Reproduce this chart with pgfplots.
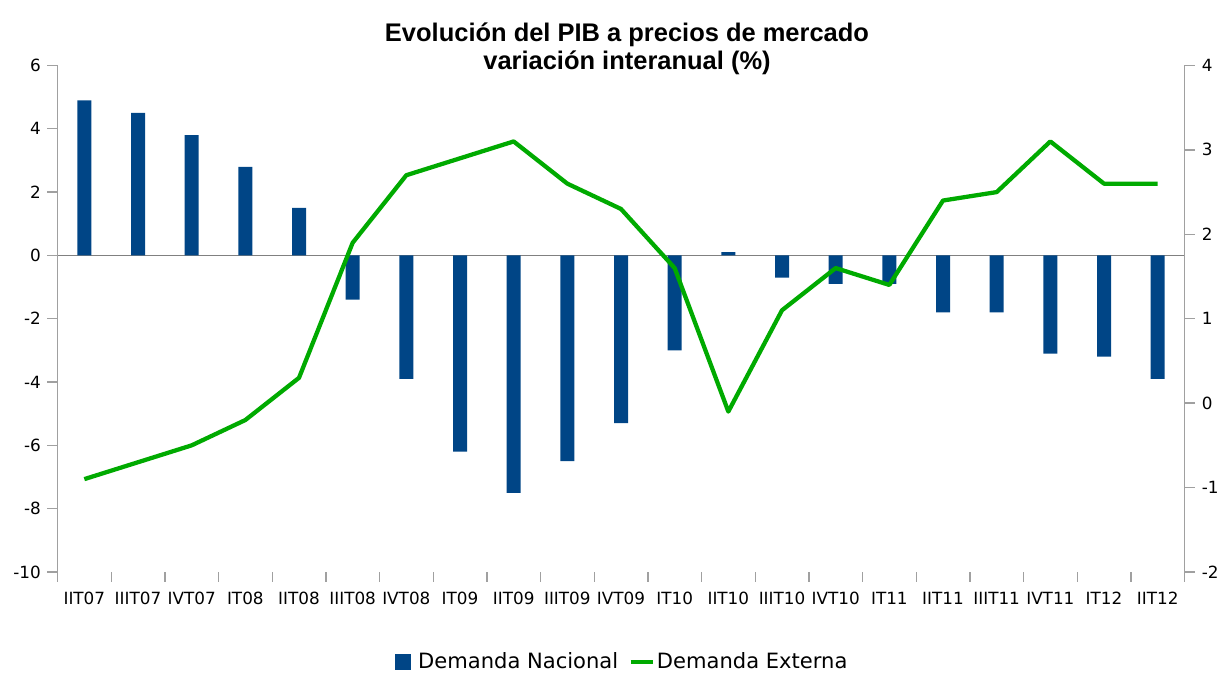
\documentclass[border=0pt]{standalone}
\usepackage{fontspec}
\setmainfont{DejaVu Sans}
\newfontfamily\titlefont{Liberation Sans}
\usepackage{pgfplots}
\usepackage{pgfplotstable}
\pgfplotsset{compat=1.18}
\definecolor{barblue}{RGB}{0,69,134}
\definecolor{linegreen}{RGB}{0,170,0}
\definecolor{axgray}{RGB}{160,160,160}
\definecolor{zerogray}{RGB}{128,128,128}

\pgfplotstableread{
x nac ext
0 4.9 -0.9
1 4.5 -0.7
2 3.8 -0.5
3 2.8 -0.2
4 1.5 0.3
5 -1.4 1.9
6 -3.9 2.7
7 -6.2 2.9
8 -7.5 3.1
9 -6.5 2.6
10 -5.3 2.3
11 -3.0 1.6
12 0.1 -0.1
13 -0.7 1.1
14 -0.9 1.6
15 -0.9 1.4
16 -1.8 2.4
17 -1.8 2.5
18 -3.1 3.1
19 -3.2 2.6
20 -3.9 2.6
}\datatable

\begin{document}
\begin{tikzpicture}
\pgfplotsset{
  common/.style={
    width=845.25pt, height=379.9pt, scale only axis,
    xmin=-0.5, xmax=20.5,
    tick align=outside,
    major tick length=7.5pt, minor tick length=7.5pt,
    tick style={axgray, line width=1pt},
    ticklabel style={font=\fontsize{12.6}{15}\selectfont},
    /pgf/number format/assume math mode=true,
  }
}
\begin{axis}[common, name=main,
  axis y line*=left, axis x line*=bottom,
  x axis line style={draw=none},
  y axis line style={axgray, line width=1pt},
  ymin=-10, ymax=6, ytick={-10,-8,...,6},
  yticklabel style={xshift=-1.5pt},
  xtick={0,...,20},
  xticklabels={IIT07,IIIT07,IVT07,IT08,IIT08,IIIT08,IVT08,IT09,IIT09,IIIT09,IVT09,IT10,IIT10,IIIT10,IVT10,IT11,IIT11,IIIT11,IVT11,IT12,IIT12},
  xticklabel style={yshift=-4pt},
  minor xtick={-0.5,0.5,...,20.5},
  major x tick style={draw=none},
  extra y ticks={0}, extra y tick labels={},
  extra y tick style={grid=major, major grid style={zerogray, line width=1.1pt}},
  ybar, bar width=10.5pt,
]
\addplot[fill=barblue, draw=none] table[x=x,y=nac]{\datatable};
\end{axis}
\begin{axis}[common,
  axis y line*=right, axis x line=none,
  y axis line style={axgray, line width=1pt},
  ymin=-2, ymax=4, ytick={-2,-1,...,4},
  yticklabel style={xshift=2pt},
  legend columns=-1,
  legend style={at={(0.5,0)}, anchor=center, yshift=-67.5pt, xshift=1pt, draw=none, fill=none,
    font=\fontsize{15.8}{18}\selectfont,
    /tikz/every even column/.append style={column sep=6pt}},
]
\addlegendimage{legend image code/.code={\fill[barblue] (0pt,-5.6pt) rectangle (11.25pt,5.6pt); \path[draw=none, fill=none] (0pt,0pt) -- (15.5pt,0pt);}}
\addlegendentry{Demanda Nacional}
\addplot[linegreen, line width=3.2pt, line join=round,
  legend image code/.code={\draw[linegreen, line width=2.5pt] (0pt,0pt) -- (16.5pt,0pt);}]
  table[x=x,y=ext]{\datatable};
\addlegendentry{Demanda Externa}
\end{axis}
\node[font=\titlefont\bfseries\fontsize{19.1}{22}\selectfont, anchor=base, inner sep=0pt]
  at ([xshift=4.5pt, yshift=18pt]main.north) {Evolución del PIB a precios de mercado};
\node[font=\titlefont\bfseries\fontsize{19.1}{22}\selectfont, anchor=base, inner sep=0pt]
  at ([xshift=4.5pt, yshift=-3pt]main.north) {variación interanual (\%)};
\pgfresetboundingbox
\path[use as bounding box] (main.south west) ++(-43.125pt,-75.75pt) rectangle ++(915.75pt,504.75pt);
\end{tikzpicture}
\end{document}
